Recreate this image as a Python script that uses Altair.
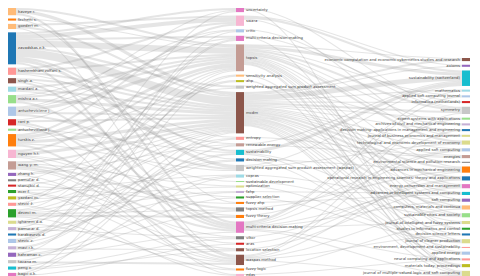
import altair as alt
import pandas as pd

# ---------------- data ----------------
authors = ["kaveye r.", "fechetti s.", "goedert m.", "zavadskas e.k.", "hashemkhani zolfani s.",
           "singh a.", "mardani a.", "mishra a.r.", "antucheviciene j.", "rani p.",
           "antuchevičienė j.", "turskis z.", "nguyen h.t.", "wang y.-m.", "zhang h.",
           "pamučar d.", "stanujkić d.", "ecer f.", "yazdani m.", "stević ž.",
           "deveci m.", "ighanem d.a.", "pamucar d.", "karabasevic d.", "stevic z.",
           "mavi r.k.", "kahraman c.", "tavana m.", "peng x.", "bagci o.k."]

topics = ["uncertainty", "swara", "critic", "multi-criteria decision-making", "topsis",
          "sensitivity analysis", "ahp", "weighted aggregated sum product assessment", "mcdm", "entropy",
          "renewable energy", "sustainability", "decision making",
          "weighted aggregated sum product assessment (waspas)", "copras",
          "sustainable development", "optimization", "fahp", "supplier selection", "fuzzy ahp",
          "topsis method", "fuzzy theory", "multi-criteria decision making", "vikor", "aras",
          "location selection", "waspas method", "fuzzy logic", "edas"]

journals = ["economic computation and economic cybernetics studies and research", "axioms",
            "sustainability (switzerland)", "mathematics", "applied soft computing journal",
            "informatica (netherlands)", "symmetry", "expert systems with applications",
            "archives of civil and mechanical engineering",
            "decision making: applications in management and engineering",
            "journal of business economics and management",
            "technological and economic development of economy", "applied soft computing", "energies",
            "environmental science and pollution research", "advances in mechanical engineering",
            "operational research in engineering sciences: theory and applications",
            "energy conversion and management", "advances in intelligent systems and computing",
            "soft computing", "computers, materials and continua", "sustainable cities and society",
            "journal of intelligent and fuzzy systems", "studies in informatics and control",
            "decision science letters", "journal of cleaner production",
            "environment, development and sustainability", "applied energy",
            "neural computing and applications", "materials today: proceedings",
            "journal of multiple-valued logic and soft computing"]

# author -> [(topic index, value)]
author_links = [
    [(8, 3), (22, 2), (4, 2)],
    [(4, 1), (19, 1)],
    [(8, 2), (1, 2), (26, 1)],
    [(4, 6), (8, 8), (1, 4), (0, 2), (3, 2), (7, 2), (13, 3), (11, 2), (26, 2)],
    [(1, 2), (4, 2), (8, 2), (9, 1)],
    [(8, 2), (22, 2), (12, 1)],
    [(4, 2), (8, 2), (10, 1)],
    [(8, 3), (22, 2), (4, 2), (2, 1)],
    [(4, 3), (8, 2), (3, 1), (13, 2), (0, 1)],
    [(8, 2), (22, 2), (28, 1), (2, 1)],
    [(11, 1), (15, 1)],
    [(4, 3), (8, 3), (1, 2), (26, 2), (13, 1), (7, 1)],
    [(8, 3), (4, 2), (21, 1), (27, 1), (18, 1)],
    [(8, 2), (22, 2), (20, 2), (24, 1), (16, 1)],
    [(8, 1), (26, 1), (10, 1)],
    [(4, 1), (23, 1)],
    [(8, 1), (19, 1)],
    [(26, 1), (25, 1), (14, 1)],
    [(8, 1), (6, 1), (16, 1)],
    [(0, 1), (9, 1), (28, 1)],
    [(8, 1), (21, 2), (27, 1), (17, 1), (4, 1), (12, 1), (20, 1)],
    [(6, 1), (26, 1), (11, 1)],
    [(17, 1), (3, 1), (23, 1)],
    [(12, 1), (14, 1)],
    [(2, 1), (3, 1), (11, 1), (5, 1)],
    [(8, 1), (9, 1), (25, 1)],
    [(22, 1), (18, 1), (20, 1), (4, 1)],
    [(26, 2), (10, 1)],
    [(14, 1), (25, 1), (23, 1)],
    [(8, 1), (5, 1), (24, 1)],
]

# journal <- [(topic index, value)]
journal_links = [
    [(8, 2), (4, 1)],
    [(8, 1), (1, 1)],
    [(8, 5), (4, 3), (11, 3), (10, 1), (1, 2), (13, 1)],
    [(8, 1), (22, 1)],
    [(4, 1), (22, 1)],
    [(8, 1), (3, 1)],
    [(8, 2), (4, 2), (0, 1), (26, 1), (2, 1)],
    [(22, 1), (8, 1)],
    [(4, 1), (7, 1)],
    [(8, 1), (26, 1)],
    [(4, 1), (1, 1)],
    [(4, 2), (8, 1), (13, 1)],
    [(8, 1), (22, 1), (21, 1)],
    [(8, 1), (10, 1), (9, 1)],
    [(8, 1)],
    [(8, 2), (4, 1), (26, 1), (20, 1), (12, 1)],
    [(8, 2), (23, 1), (24, 1)],
    [(8, 1), (4, 1), (22, 1), (25, 1)],
    [(8, 1), (19, 1), (17, 1)],
    [(4, 1), (22, 1), (14, 1)],
    [(8, 2), (4, 1), (26, 1)],
    [(8, 1), (11, 1), (4, 1), (15, 1)],
    [(8, 1), (22, 1), (27, 1)],
    [(4, 1), (3, 1)],
    [(8, 1), (26, 1)],
    [(8, 1), (4, 1), (18, 1), (16, 1)],
    [(11, 1)],
    [(8, 1), (12, 1), (5, 1)],
    [(22, 1), (28, 1)],
    [(8, 1), (4, 1), (6, 1)],
    [(8, 1), (22, 1), (4, 1), (26, 1), (0, 1)],
]

# ---------------- styles ----------------
author_colors = ["#ffbb78", "#ff7f0e", "#ffbb78", "#1f77b4", "#ff9896", "#8c564b", "#9edae5", "#98df8a",
                 "#aec7e8", "#d62728", "#98df8a", "#ff7f0e", "#f7b6d2", "#c49c94", "#9467bd", "#7f7f7f",
                 "#d62728", "#2ca02c", "#bcbd22", "#ff9896", "#2ca02c", "#dbdb8d", "#c5b0d5", "#1f77b4",
                 "#aec7e8", "#c5b0d5", "#9467bd", "#c7c7c7", "#17becf", "#e377c2"]
topic_colors = ["#e377c2", "#f7b6d2", "#aec7e8", "#e377c2", "#c49c94", "#ffbb78", "#bcbd22", "#c7c7c7",
                "#8c564b", "#ff9896", "#c49c94", "#17becf", "#1f77b4", "#c7c7c7", "#9edae5", "#98df8a",
                "#dbdb8d", "#c5b0d5", "#2ca02c", "#ff7f0e", "#7f7f7f", "#ff7f0e", "#e377c2", "#7f7f7f",
                "#d62728", "#8c564b", "#8c564b", "#ff7f0e", "#f7b6d2"]
journal_colors = ["#8c564b", "#9467bd", "#17becf", "#9edae5", "#aec7e8", "#d62728", "#c7c7c7", "#98df8a",
                  "#c5b0d5", "#1f77b4", "#dbdb8d", "#dbdb8d", "#aec7e8", "#c49c94", "#7f7f7f", "#ff7f0e",
                  "#1f77b4", "#e377c2", "#17becf", "#9467bd", "#ffbb78", "#98df8a", "#dbdb8d", "#2ca02c",
                  "#1f77b4", "#dbdb8d", "#ff9896", "#aec7e8", "#ff9896", "#bcbd22", "#dbdb8d"]

# ---------------- sankey layout ----------------
W, H = 464, 268
NODE_W = 8
COL_X = [0, 228, 454]
COL_TOP = [0, 0, 50]
PAD = 3.3

cols = [authors, topics, journals]
ids = [[f"{c}:{i}" for i in range(len(names))] for c, names in enumerate(cols)]

links = []
for a, lst in enumerate(author_links):
    for t, v in lst:
        links.append((ids[0][a], ids[1][t], v))
for j, lst in enumerate(journal_links):
    for t, v in lst:
        links.append((ids[1][t], ids[2][j], v))

vin, vout = {}, {}
for s, t, v in links:
    vout[s] = vout.get(s, 0) + v
    vin[t] = vin.get(t, 0) + v

node = {}
totals = []
for c in range(3):
    tot = 0
    for i, nid in enumerate(ids[c]):
        val = max(vin.get(nid, 0), vout.get(nid, 0))
        node[nid] = {"col": c, "name": cols[c][i], "value": val}
        tot += val
    totals.append(tot)

ky = min((H - COL_TOP[c] - (len(ids[c]) - 1) * PAD) / totals[c] for c in range(3))
for c in range(3):
    gap = (H - COL_TOP[c] - totals[c] * ky) / (len(ids[c]) - 1)
    y = COL_TOP[c]
    for nid in ids[c]:
        n = node[nid]
        n["y0"] = y
        n["y1"] = y + n["value"] * ky
        n["x0"] = COL_X[c]
        n["x1"] = COL_X[c] + NODE_W
        y = n["y1"] + gap

# link slots
out_off = {nid: node[nid]["y0"] for nid in node}
in_off = {nid: node[nid]["y0"] for nid in node}
sy = {}
for k in sorted(range(len(links)), key=lambda k: (node[links[k][0]]["col"], node[links[k][0]]["y0"], node[links[k][1]]["y0"])):
    s, t, v = links[k]
    w = v * ky
    sy[k] = out_off[s] + w / 2
    out_off[s] += w
ty = {}
for k in sorted(range(len(links)), key=lambda k: (node[links[k][1]]["col"], node[links[k][1]]["y0"], node[links[k][0]]["y0"])):
    s, t, v = links[k]
    w = v * ky
    ty[k] = in_off[t] + w / 2
    in_off[t] += w

link_rows = []
for k, (s, t, v) in enumerate(links):
    x0 = node[s]["x1"]
    x1 = node[t]["x0"]
    w = v * ky
    pts = [(x0, sy[k]), (x0 + 0.5, sy[k]), (x1 - 0.5, ty[k]), (x1, ty[k])]
    for o, (px, py) in enumerate(pts):
        link_rows.append({"id": k, "ord": o, "x": px, "y": py, "w": w})

link_df = pd.DataFrame(link_rows)
node_df = pd.DataFrame([{"id": nid, **node[nid], "yc": (node[nid]["y0"] + node[nid]["y1"]) / 2}
                        for c in range(3) for nid in ids[c]])

xs = alt.Scale(domain=[0, W], nice=False, zero=False)
ys = alt.Scale(domain=[0, H], nice=False, zero=False, reverse=True)
all_ids = ids[0] + ids[1] + ids[2]
all_colors = author_colors + topic_colors + journal_colors

link_layer = alt.Chart(link_df).mark_line(interpolate="monotone", stroke="#999", strokeOpacity=0.25).encode(
    x=alt.X("x:Q", scale=xs, axis=None),
    y=alt.Y("y:Q", scale=ys, axis=None),
    detail="id:N",
    order="ord:Q",
    strokeWidth=alt.StrokeWidth("w:Q", scale=None, legend=None),
)

node_layer = alt.Chart(node_df).mark_rect().encode(
    x=alt.X("x0:Q", scale=xs, axis=None),
    x2="x1:Q",
    y=alt.Y("y0:Q", scale=ys, axis=None),
    y2="y1:Q",
    color=alt.Color("id:N", scale=alt.Scale(domain=all_ids, range=all_colors), legend=None),
)

left_labels = alt.Chart(node_df).transform_filter("datum.col < 2").mark_text(
    align="left", baseline="middle", dx=2, fontSize=3.8, font="DejaVu Sans", color="#444"
).encode(x=alt.X("x1:Q", scale=xs, axis=None), y=alt.Y("yc:Q", scale=ys, axis=None), text="name:N")

right_labels = alt.Chart(node_df).transform_filter("datum.col == 2").mark_text(
    align="right", baseline="middle", dx=-2, fontSize=3.8, font="DejaVu Sans", color="#444"
).encode(x=alt.X("x0:Q", scale=xs, axis=None), y=alt.Y("yc:Q", scale=ys, axis=None), text="name:N")

chart = alt.layer(link_layer, node_layer, left_labels, right_labels).properties(
    width=W, height=H, padding=0, autosize=alt.AutoSizeParams(type="none")
).configure_view(strokeWidth=0)

chart.save("out.html", embed_options={"renderer": "svg", "actions": False})
